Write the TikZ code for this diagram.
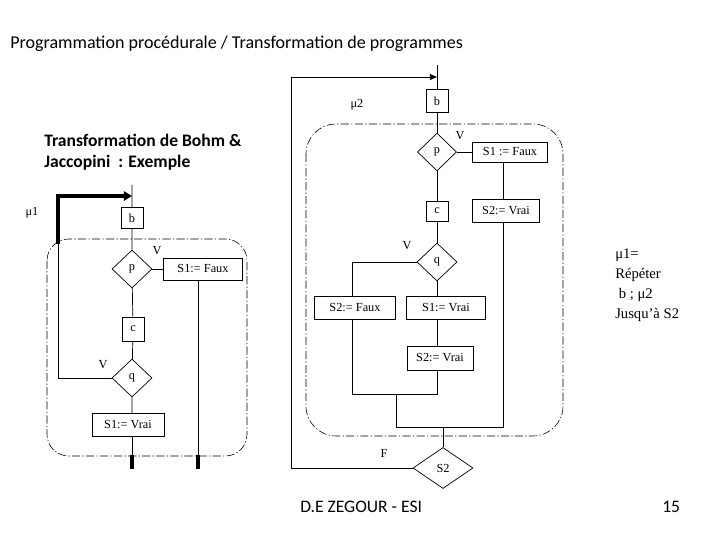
\documentclass[tikz,border=0pt]{standalone}
\usepackage{fontspec}
\setmainfont{Liberation Serif}
\newfontfamily\calib{Carlito}
\usetikzlibrary{shapes.geometric, arrows.meta}

\tikzset{
  instr/.style={draw, rectangle, inner sep=0pt, font=\fontsize{10.5}{12}\selectfont},
  test/.style={draw, diamond, inner sep=0pt, minimum width=1.2cm, minimum height=1.14cm, font=\fontsize{10.5}{12}\selectfont},
  bloc/.style={draw, dash pattern=on 7pt off 2pt on 1pt off 2pt, line width=0.5pt},
  lbl/.style={font=\fontsize{10.5}{12}\selectfont},
  heavy/.style={line width=3pt}
}

\begin{document}
\begin{tikzpicture}[x=0.03cm, y=-0.03cm, line width=0.6pt]
    \useasboundingbox (0,0) rectangle (720,540);

    % Titles
    \node[anchor=west, font=\calib\fontsize{15.4}{18}\selectfont] (titre) at (6,44) {Programmation procédurale / Transformation de programmes};
    \node[anchor=west, align=left, font=\calib\bfseries\fontsize{15}{18}\selectfont] (soustitre) at (40,152) {Transformation de Bohm \&\\Jaccopini\ \ : Exemple};

    % mu1
    \node[lbl] (mu1) at (32,213) {μ1};
    \coordinate (top1) at (132,185);
    \coordinate (in1) at (132,196);
    \coordinate (loop1) at (58,244);
    \coordinate (bot1) at (132,469);
    \coordinate (bot1b) at (198,469);

    \node[instr, minimum width=0.66cm, minimum height=0.63cm] (b1) at (132,218) {b};
    \node[test] (p1) at (132,269) {p};
    \node[instr, minimum width=2.37cm, minimum height=0.66cm] (f1) at (203,269) {S1:= Faux};
    \node[instr, minimum width=0.66cm, minimum height=0.72cm] (c1) at (133,329) {c};
    \node[test] (q1) at (132,378) {q};
    \node[instr, minimum width=2.16cm, minimum height=0.69cm] (v1) at (128,425) {S1:= Vrai};

    \node[lbl] (vp1) at (157,251) {V};
    \node[lbl] (vq1) at (103,365) {V};

    \draw (top1) -- (b1) -- (p1) -- (c1) -- (q1) -- (q1.south |- v1.north);
    \draw (v1.south -| bot1) -- (bot1);
    \draw[heavy] (bot1) -- ++(0,-14);
    \draw (p1.east) -- (f1.west);
    \draw (f1.south -| bot1b) -- (bot1b);
    \draw[heavy] (bot1b) -- ++(0,-14);
    \draw (q1.west) -| (loop1);
    \draw[heavy, -{Triangle[length=7pt, width=8pt]}] (loop1) |- (in1);

    \draw[bloc, rounded corners=0.65cm] (47,239) rectangle (247,456);

    % mu2
    \node[lbl] (mu2) at (357,105) {μ2};
    \coordinate (top2) at (437,65);
    \coordinate (in2) at (437,77);
    \coordinate (loop2) at (291,468);
    \coordinate (jr) at (503,427);
    \coordinate (jl) at (396,427);
    \coordinate (ml) at (352,394);
    \coordinate (mr) at (437,394);

    \node[instr, minimum width=0.66cm, minimum height=0.69cm] (b2) at (437,101) {b};
    \node[test, minimum width=1.17cm] (p2) at (437,152) {p};
    \node[instr, minimum width=2.25cm, minimum height=0.6cm] (f2) at (510,152) {S1 := Faux};
    \node[instr, minimum width=0.66cm, minimum height=0.6cm] (c2) at (437,211) {c};
    \node[instr, minimum width=2.01cm, minimum height=0.69cm] (v2) at (506,211) {S2:= Vrai};
    \node[test] (q2) at (437,262) {q};
    \node[instr, minimum width=2.43cm, minimum height=0.69cm] (sf) at (355,308) {S2:= Faux};
    \node[instr, minimum width=2.37cm, minimum height=0.69cm] (sv) at (446,308) {S1:= Vrai};
    \node[instr, minimum width=1.98cm, minimum height=0.72cm] (sv2) at (440,358) {S2:= Vrai};
    \node[test, minimum width=1.8cm, minimum height=1.23cm] (s2) at (443,468) {S2};

    \node[lbl] (vp2) at (460,136) {V};
    \node[lbl] (vq2) at (407,246) {V};
    \node[lbl] (fs2) at (384,453) {F};

    \draw (top2) -- (b2) -- (p2) -- (c2) -- (q2);
    \draw (p2.east) -- (f2.west);
    \draw (f2.south -| jr) -- (v2.north -| jr);
    \draw (v2.south -| jr) -- (jr) -- (jl);
    \draw (q2.west) -| (sf.north -| ml);
    \draw (q2.south) -- (sv.north -| q2);
    \draw (sv.south -| q2) -- (sv2.north -| q2);
    \draw (sv2.south -| q2) -- (mr) -- (ml) -- (sf.south -| ml);
    \draw (jl) -- (jl |- mr);
    \draw (s2.north) -- (s2.north |- jr);
    \draw[-{Triangle[length=6pt, width=5pt]}] (s2.west) -- (loop2) |- (in2);

    \draw[bloc, rounded corners=0.9cm] (306,124) rectangle (563,436);

    % Explication
    \node[anchor=west, align=left, font=\fontsize{12.5}{17}\selectfont] (expl) at (611,285) {μ1=\\Répéter\\\ b ; μ2\\Jusqu’à S2};

    % Pied
    \node[anchor=west, font=\calib\fontsize{15}{18}\selectfont] (auteur) at (296,507) {D.E ZEGOUR - ESI};
    \node[anchor=west, font=\calib\fontsize{15}{18}\selectfont] (page) at (658,507) {15};
  \end{tikzpicture}
\end{document}
